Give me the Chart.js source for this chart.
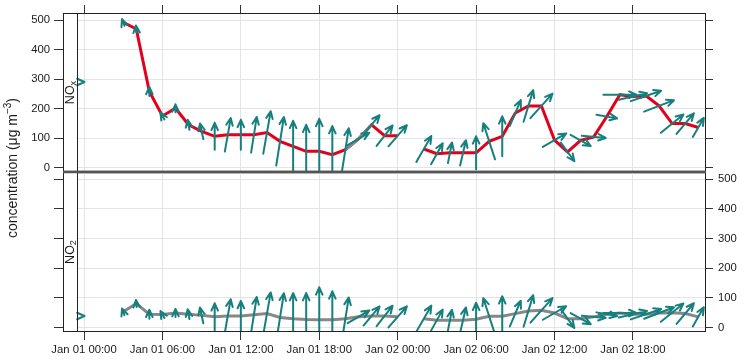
<!DOCTYPE html>
<html>
<head>
<meta charset="utf-8">
<script src="https://cdn.jsdelivr.net/npm/chart.js@4.4.1/dist/chart.umd.min.js"></script>
<style>
  html, body { margin: 0; padding: 0; background: #fff; }
  #wrap { position: relative; width: 751px; height: 364px; }
  #wrap canvas { position: absolute; left: 0; top: 0; }
</style>
</head>
<body>
<div id="wrap">
  <canvas id="noxChart" width="751" height="364"></canvas>
  <canvas id="no2Chart" width="751" height="364"></canvas>
</div>
<script>
// hourly data, 1-2 Jan
var hours = [0, 1, 2, 3, 4, 5, 6, 7, 8, 9, 10, 11, 12, 13, 14, 15, 16, 17, 18, 19, 20, 21, 22, 23,
             24, 25, 26, 27, 28, 29, 30, 31, 32, 33, 34, 35, 36, 37, 38, 39, 40, 41, 42, 43, 44, 45, 46, 47];
var tickHours = [0, 6, 12, 18, 24, 30, 36, 42];
var tickLabels = ['Jan 01 00:00', 'Jan 01 06:00', 'Jan 01 12:00', 'Jan 01 18:00',
                  'Jan 02 00:00', 'Jan 02 06:00', 'Jan 02 12:00', 'Jan 02 18:00'];
var concTicks = [0, 100, 200, 300, 400, 500];

var nox = [290, null, null, 492, 470, 258, 175, 201, 145, 123, 106, 111, 111, 111, 119, 89,
           72, 55, 55, 44, 61, 97, 145, 108, 108, null, 63, 47, 50, 50, 50, 89,
           106, 185, 209, 209, 93, 53, 92, 104, 173, 247, 241, 243, 209, 149, 149, 136];
var no2 = [39, null, null, 53, 81, 45, 44, 49, 45, 41, 36, 39, 39, 43, 47, 34,
           30, 27, 26, 26, 30, 36, 39, 39, 36, null, 30, 25, 25, 25, 28, 38,
           38, 47, 56, 58, 49, 30, 30, 36, 45, 49, 45, 45, 49, 50, 47, 36];
var noxGreyHours = [20, 21, 22];

// wind speed (m/s) and direction (deg, blowing from)
var windSpeed = [0.1, null, null, 0.7, 0.7, 0.9, 0.8, 0.8, 1.0, 1.6, 2.7, 3.4, 3.0, 3.6, 4.3, 4.9,
                 5.1, 5.3, 6.5, 5.7, 4.3, 2.5, 2.5, 2.6, 2.8, null, 3.0, 2.4, 2.1, 2.6, 3.3, 3.8,
                 4.0, 2.8, 3.3, 3.3, 2.7, 2.3, 2.3, 2.4, 2.1, 3.3, 2.9, 3.2, 3.2, 2.9, 2.7, 2.2];
var windDir = [270, null, null, 160, 175, 180, 150, 180, 170, 168, 180, 190, 180, 189, 190, 189,
               180, 180, 180, 180, 189, 240, 220, 218, 221, null, 210, 209, 191, 193, 180, 162,
               180, 203, 197, 222, 240, 324, 299, 275, 280, 270, 257, 251, 249, 231, 220, 210];

var red = '#e2001c';
var grey = '#878787';
var teal = '#16807f';
var font = { family: "'Liberation Sans', Arial, sans-serif", size: 11.3 };
var textCol = '#1a1a1a';

function pts(vals, only) {
  return hours.map(function (h, i) {
    var v = vals[i];
    if (only && only.indexOf(h) < 0) v = null;
    return { x: h, y: v };
  });
}

var panelPlugin = {
  id: 'panel',
  beforeDatasetsDraw: function (chart, args, opts) {
    var a = chart.chartArea, ctx = chart.ctx;
    ctx.save();
    ctx.fillStyle = '#fff';
    ctx.fillRect(a.left, a.top, 14, a.bottom - a.top);
    ctx.restore();
  },
  afterDatasetsDraw: function (chart, args, opts) {
    var a = chart.chartArea, ctx = chart.ctx;
    var xs = chart.scales.x, ys = chart.scales.y;
    ctx.save();
    ctx.beginPath();
    ctx.rect(a.left, a.top, a.right - a.left, a.bottom - a.top);
    ctx.clip();
    ctx.strokeStyle = teal;
    ctx.lineWidth = 2;
    ctx.lineCap = 'round';
    ctx.lineJoin = 'round';
    for (var i = 0; i < hours.length; i++) {
      if (opts.values[i] == null || windSpeed[i] == null) continue;
      var cx = xs.getPixelForValue(hours[i]);
      var cy = ys.getPixelForValue(opts.values[i]);
      var ang = (windDir[i] + 180) * Math.PI / 180;
      var len = windSpeed[i] * 10;
      var ux = Math.sin(ang), uy = -Math.cos(ang);
      var x1 = cx + ux * len / 2, y1 = cy + uy * len / 2;
      ctx.beginPath();
      ctx.moveTo(cx - ux * len / 2, cy - uy * len / 2);
      ctx.lineTo(x1, y1);
      var back = Math.atan2(-uy, -ux), hw = 24 * Math.PI / 180;
      ctx.moveTo(x1 + 8 * Math.cos(back - hw), y1 + 8 * Math.sin(back - hw));
      ctx.lineTo(x1, y1);
      ctx.lineTo(x1 + 8 * Math.cos(back + hw), y1 + 8 * Math.sin(back + hw));
      ctx.stroke();
    }
    ctx.restore();
  },
  afterDraw: function (chart, args, opts) {
    var a = chart.chartArea, ctx = chart.ctx;
    ctx.save();
    ctx.strokeStyle = '#222';
    ctx.lineWidth = 1;
    ctx.strokeRect(a.left + 0.5, a.top + 0.5, a.right - a.left - 1, a.bottom - a.top - 1);
    ctx.beginPath();
    ctx.moveTo(a.left + 14.5, a.top);
    ctx.lineTo(a.left + 14.5, a.bottom);
    ctx.stroke();
    // divider between panels
    ctx.strokeStyle = '#555';
    ctx.lineWidth = 2.5;
    ctx.beginPath();
    var dy = opts.top ? a.bottom : a.top;
    ctx.moveTo(a.left, dy);
    ctx.lineTo(a.right, dy);
    ctx.stroke();

    // strip label
    ctx.fillStyle = textCol;
    ctx.textBaseline = 'alphabetic';
    ctx.textAlign = 'left';
    ctx.font = "12.5px 'Liberation Sans', Arial, sans-serif";
    var w1 = ctx.measureText(opts.label).width;
    ctx.font = "9px 'Liberation Sans', Arial, sans-serif";
    var w2 = ctx.measureText(opts.sub).width;
    ctx.translate(a.left, (a.top + a.bottom) / 2);
    ctx.rotate(-Math.PI / 2);
    var sx = -(w1 + w2) / 2;
    ctx.font = "12.5px 'Liberation Sans', Arial, sans-serif";
    ctx.fillText(opts.label, sx, 11);
    ctx.font = "9px 'Liberation Sans', Arial, sans-serif";
    ctx.fillText(opts.sub, sx + w1, 13);
    ctx.restore();

    if (opts.top) {
      // y axis title
      ctx.save();
      ctx.fillStyle = textCol;
      ctx.textBaseline = 'alphabetic';
      ctx.textAlign = 'left';
      var big = "14px 'Liberation Sans', Arial, sans-serif";
      var small = "10px 'Liberation Sans', Arial, sans-serif";
      var p1 = 'concentration (\u03bcg m', p2 = '\u22123', p3 = ')';
      ctx.font = big;
      var a1 = ctx.measureText(p1).width, a3 = ctx.measureText(p3).width;
      ctx.font = small;
      var a2 = ctx.measureText(p2).width;
      ctx.translate(0, 168);
      ctx.rotate(-Math.PI / 2);
      var st = -(a1 + a2 + a3) / 2;
      ctx.font = big;
      ctx.fillText(p1, st, 17);
      ctx.font = small;
      ctx.fillText(p2, st + a1, 11);
      ctx.font = big;
      ctx.fillText(p3, st + a1 + a2, 17);
      ctx.restore();
    }
  }
};

function setTicks(list) {
  return function (s) { s.ticks = list.map(function (v) { return { value: v }; }); };
}

function yAxes(leftLabels, rightLabels) {
  return {
    y: {
      position: 'left', min: -15, max: 524,
      afterBuildTicks: setTicks(concTicks),
      afterFit: function (s) { s.width = 63; },
      ticks: { display: leftLabels, font: font, color: textCol, padding: 4 },
      grid: { color: '#e4e4e4', tickColor: '#333', tickLength: 9 },
      border: { display: false }
    },
    yR: {
      position: 'right', min: -15, max: 524,
      afterBuildTicks: setTicks(concTicks),
      afterFit: function (s) { s.width = 45; },
      ticks: { display: rightLabels, font: font, color: textCol, padding: 5 },
      grid: { drawOnChartArea: false, tickColor: '#333', tickLength: 7 },
      border: { display: false }
    }
  };
}

var xMin = -1.607, xMax = 47.59;

var topScales = yAxes(true, false);
topScales.x = {
  type: 'linear', position: 'top', min: xMin, max: xMax,
  afterBuildTicks: setTicks(tickHours),
  afterFit: function (s) { s.height = 13; },
  ticks: { display: false },
  grid: { color: '#e4e4e4', tickColor: '#333', tickLength: 8 },
  border: { display: false }
};

var noxChart = new Chart(document.getElementById('noxChart'), {
  type: 'line',
  data: {
    datasets: [
      { label: 'NOx', data: pts(nox, noxGreyHours), borderColor: grey, borderWidth: 3, pointRadius: 0, tension: 0 },
      { label: 'NOx', data: pts(nox), borderColor: red, borderWidth: 3, pointRadius: 0, tension: 0 }
    ]
  },
  options: {
    responsive: false,
    animation: false,
    layout: { padding: { top: 0, bottom: 192, left: 0, right: 0 } },
    plugins: {
      legend: { display: false },
      tooltip: { enabled: false },
      panel: { values: nox, label: 'NO', sub: 'x', top: true }
    },
    scales: topScales
  },
  plugins: [panelPlugin]
});

var bottomScales = yAxes(false, true);
bottomScales.x = {
  type: 'linear', position: 'bottom', min: xMin, max: xMax,
  afterBuildTicks: setTicks(tickHours),
  afterFit: function (s) { s.height = 32; },
  ticks: {
    font: font, color: textCol, padding: 3, maxRotation: 0, autoSkip: false,
    callback: function (v) { return tickLabels[tickHours.indexOf(v)]; }
  },
  grid: { color: '#e4e4e4', tickColor: '#333', tickLength: 8 },
  border: { display: false }
};

var no2Chart = new Chart(document.getElementById('no2Chart'), {
  type: 'line',
  data: {
    datasets: [
      { label: 'NO2', data: pts(no2), borderColor: grey, borderWidth: 3, pointRadius: 0, tension: 0 }
    ]
  },
  options: {
    responsive: false,
    animation: false,
    layout: { padding: { top: 172, bottom: 0, left: 0, right: 0 } },
    plugins: {
      legend: { display: false },
      tooltip: { enabled: false },
      panel: { values: no2, label: 'NO', sub: '2', top: false }
    },
    scales: bottomScales
  },
  plugins: [panelPlugin]
});
</script>
</body>
</html>
